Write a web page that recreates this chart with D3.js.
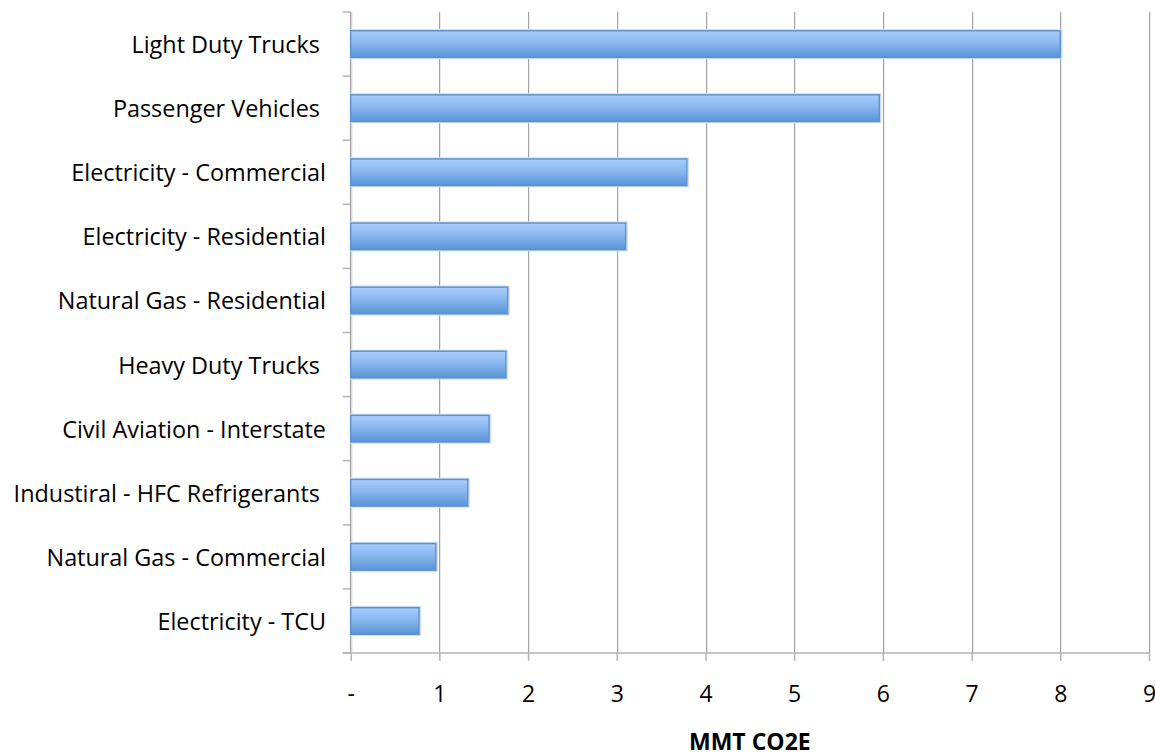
<!DOCTYPE html>
<html>
<head>
<meta charset="utf-8">
<script src="https://cdn.jsdelivr.net/npm/d3@7/dist/d3.min.js"></script>
<style>
  html, body { margin: 0; padding: 0; background: #fff; }
  svg { display: block; }
  text { font-family: "Open Sans", Lato, sans-serif; fill: #000; }
</style>
</head>
<body>
<svg id="chart" width="1155" height="756"></svg>
<script>
// Emission sources (top to bottom) and their totals in MMT CO2E
const categories = [
  "Light Duty Trucks ",
  "Passenger Vehicles ",
  "Electricity - Commercial",
  "Electricity - Residential",
  "Natural Gas - Residential",
  "Heavy Duty Trucks ",
  "Civil Aviation - Interstate",
  "Industiral - HFC Refrigerants ",
  "Natural Gas - Commercial",
  "Electricity - TCU"
];
const values = [8.0, 5.96, 3.79, 3.10, 1.77, 1.75, 1.56, 1.32, 0.96, 0.77];
const tickValues = [0, 1, 2, 3, 4, 5, 6, 7, 8, 9];
const tickLabels = ["-", "1", "2", "3", "4", "5", "6", "7", "8", "9"];
const axisTitle = "MMT CO2E";

const svg = d3.select("#chart");
const plot = { left: 350.7, right: 1149, top: 12, bottom: 653 };

const x = d3.scaleLinear().domain([0, 9]).range([plot.left, plot.right]);
const y = d3.scaleBand().domain(categories).range([plot.top, plot.bottom])
  .paddingInner(0.585).paddingOuter(0.2925);

// Bar fill gradient
const defs = svg.append("defs");
const grad = defs.append("linearGradient").attr("id", "barFill")
  .attr("x1", 0).attr("y1", 0).attr("x2", 0).attr("y2", 1);
grad.append("stop").attr("offset", "0%").attr("stop-color", "#a9cdfb");
grad.append("stop").attr("offset", "45%").attr("stop-color", "#8ab8ef");
grad.append("stop").attr("offset", "100%").attr("stop-color", "#5894d6");

// Vertical gridlines
const grid = svg.append("g");
tickValues.filter(d => d > 0).forEach(d => {
  const gx = Math.round(x(d));
  grid.append("line").attr("x1", gx + 1).attr("x2", gx + 1)
    .attr("y1", plot.top).attr("y2", plot.bottom)
    .attr("stroke", "#d6d6d6").attr("stroke-width", 1);
  grid.append("line").attr("x1", gx + 0.5).attr("x2", gx + 0.5)
    .attr("y1", plot.top).attr("y2", plot.bottom)
    .attr("stroke", "#a3a3a3").attr("stroke-width", 1);
});

// Bottom axis with ticks below the line
const xAxis = d3.axisBottom(x).tickValues(tickValues)
  .tickSize(8).tickFormat((d, i) => tickLabels[i]);
const gx = svg.append("g").attr("transform", `translate(0,${plot.bottom})`).call(xAxis);
gx.select(".domain").attr("stroke", "#b3b3b3").attr("stroke-width", 1.5)
  .attr("d", `M${plot.left - 8},0H${plot.right}`);
gx.selectAll(".tick line").attr("stroke", "#b3b3b3").attr("stroke-width", 1.5);
gx.selectAll(".tick text").attr("dy", 0).attr("y", 49)
  .style("font-family", "'Open Sans', Lato, sans-serif")
  .style("font-size", "23px").attr("fill", "#000");

// Left category axis: ticks sit on band boundaries
const boundaries = categories.map(c => y(c) - y.step() * y.paddingInner() / 2);
boundaries.push(plot.bottom);
const ly = svg.append("g");
boundaries.forEach(b => {
  ly.append("line").attr("x1", plot.left - 8).attr("x2", plot.left)
    .attr("y1", b).attr("y2", b).attr("stroke", "#b3b3b3").attr("stroke-width", 1.5);
});
ly.append("line").attr("x1", plot.left).attr("x2", plot.left)
  .attr("y1", plot.top).attr("y2", plot.bottom)
  .attr("stroke", "#a3a3a3").attr("stroke-width", 1.5);
ly.append("line").attr("x1", plot.left + 1.2).attr("x2", plot.left + 1.2)
  .attr("y1", plot.top).attr("y2", plot.bottom)
  .attr("stroke", "#dadada").attr("stroke-width", 1);

// Category labels
svg.append("g").selectAll("text").data(categories).join("text")
  .attr("x", 326)
  .attr("y", d => y(d) + y.bandwidth() / 2 + 9)
  .attr("text-anchor", "end")
  .style("white-space", "pre")
  .style("font-size", "23.4px")
  .text(d => d);

// Bars
const bars = svg.append("g");
bars.selectAll("rect.glow").data(values).join("rect")
  .attr("class", "glow")
  .attr("x", x(0))
  .attr("y", (d, i) => y(categories[i]) - 1)
  .attr("width", d => x(d) - x(0) + 1.5)
  .attr("height", y.bandwidth() + 2)
  .attr("fill", "none").attr("stroke", "#cfe0f4").attr("stroke-width", 1.5);
bars.selectAll("rect.bar").data(values).join("rect")
  .attr("class", "bar")
  .attr("x", x(0))
  .attr("y", (d, i) => y(categories[i]))
  .attr("width", d => x(d) - x(0))
  .attr("height", y.bandwidth())
  .attr("fill", "url(#barFill)")
  .attr("stroke", "#5f92cc").attr("stroke-width", 1.5);

// Axis title
svg.append("text")
  .attr("x", (plot.left + plot.right) / 2)
  .attr("y", 750)
  .attr("text-anchor", "middle")
  .style("font-size", "23px").style("font-weight", "bold")
  .text(axisTitle);
</script>
</body>
</html>
